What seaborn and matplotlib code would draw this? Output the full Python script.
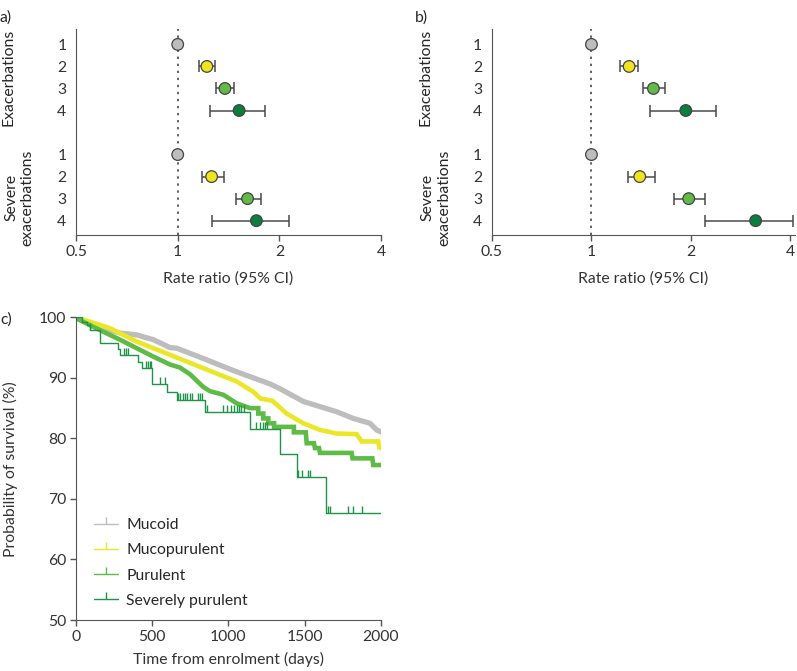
import numpy as np
import pandas as pd
import seaborn as sns
import matplotlib.pyplot as plt
from matplotlib.lines import Line2D
from matplotlib.transforms import blended_transform_factory

sns.set_style('ticks')
plt.rcParams['font.family'] = ['Lato', 'DejaVu Sans']
plt.rcParams['font.size'] = 11.3
plt.rcParams['axes.edgecolor'] = '#555555'
plt.rcParams['xtick.color'] = '#555555'
plt.rcParams['ytick.color'] = '#555555'
plt.rcParams['xtick.labelcolor'] = '#333333'
plt.rcParams['ytick.labelcolor'] = '#333333'
plt.rcParams['axes.labelcolor'] = '#333333'

grades = ['1', '2', '3', '4']
colours = ['#bdbdbd', '#f0e41f', '#62bb46', '#0b7d3e']

# rate ratios, panel a
a_exac = [1.0, 1.22, 1.38, 1.52]
a_exac_lo = [np.nan, 1.16, 1.30, 1.25]
a_exac_hi = [np.nan, 1.29, 1.47, 1.81]
a_sev = [1.0, 1.26, 1.61, 1.71]
a_sev_lo = [np.nan, 1.18, 1.49, 1.26]
a_sev_hi = [np.nan, 1.37, 1.77, 2.13]

# rate ratios, panel b
b_exac = [1.0, 1.30, 1.54, 1.93]
b_exac_lo = [np.nan, 1.22, 1.43, 1.50]
b_exac_hi = [np.nan, 1.38, 1.67, 2.39]
b_sev = [1.0, 1.40, 1.97, 3.14]
b_sev_lo = [np.nan, 1.29, 1.78, 2.20]
b_sev_hi = [np.nan, 1.56, 2.21, 4.08]

# survival curves, panel c
mucoid_t = [0, 4, 180, 289, 398, 508, 617, 661, 835, 1054, 1273, 1339, 1492, 1711, 1820, 1929, 1973, 2000]
mucoid_s = [100, 99.8, 98.2, 97.4, 97.1, 96.3, 95.0, 94.9, 93.2, 91.0, 89.0, 88.2, 86.1, 84.4, 83.3, 82.5, 81.4, 81.1]
mucopur_t = [0, 100, 223, 398, 617, 835, 1054, 1163, 1210, 1290, 1382, 1492, 1601, 1711, 1842, 1875, 1984, 1990, 2000]
mucopur_s = [100, 99.2, 98.2, 96.0, 93.8, 91.6, 89.4, 87.7, 86.6, 86.2, 84.1, 82.5, 81.4, 80.8, 80.7, 79.5, 79.5, 78.5, 78.4]
purulent_t = [0, 20, 180, 289, 398, 508, 617, 682, 748, 835, 879, 967, 1054, 1142, 1196, 1196, 1229, 1229,
              1262, 1262, 1300, 1300, 1430, 1430, 1508, 1514, 1562, 1568, 1595, 1601, 1809, 1815, 1945, 1951, 2000]
purulent_s = [100, 99.6, 97.6, 96.3, 94.9, 93.5, 92.2, 91.7, 90.6, 88.5, 87.8, 87.2, 85.8, 85.0, 85.0, 84.1, 84.1, 83.3,
              83.3, 82.5, 82.5, 81.9, 81.9, 81.0, 81.0, 79.2, 79.2, 78.4, 78.4, 77.6, 77.6, 76.7, 76.7, 75.6, 75.6]
severe_t = [0, 40, 70, 92, 158, 278, 289, 409, 431, 500, 595, 661, 846, 1142, 1339, 1448, 1641, 2000]
severe_s = [100, 99.3, 98.7, 97.9, 95.7, 94.7, 93.8, 92.7, 91.6, 89.0, 87.6, 86.4, 84.3, 81.5, 77.5, 73.7, 67.7, 67.7]
severe_censor = [92, 318, 330, 342, 460, 472, 484, 495, 551, 584, 670, 685, 700, 715, 730, 745, 760, 800, 815, 830,
                 857, 966, 990, 1020, 1040, 1055, 1070, 1085, 1100, 1180, 1205, 1225, 1240, 1255,
                 1460, 1480, 1525, 1535, 1655, 1670, 1787, 1820, 1875]
series_names = ['Mucoid', 'Mucopurulent', 'Purulent', 'Severely purulent']
line_colours = ['#bdbdbd', '#ece628', '#5dbb46', '#1d9447']
line_widths = [3.8, 3.3, 3.3]

fig = plt.figure(figsize=(7.97, 6.71), dpi=100)


def forest(ax, exac, exac_lo, exac_hi, sev, sev_lo, sev_hi, xmax):
    df = pd.DataFrame({
        'rr': exac + sev,
        'lo': exac_lo + sev_lo,
        'hi': exac_hi + sev_hi,
        'pos': [1, 2, 3, 4, 6, 7, 8, 9],
        'grade': grades * 2,
    })
    ax.axvline(1, ls=(0, (1.3, 2.6)), color='#555555', lw=1.3, zorder=1)
    ax.errorbar(df.rr, df.pos, xerr=[df.rr - df.lo, df.hi - df.rr], fmt='none',
                ecolor='#4a4a4a', elinewidth=1.1, capsize=4, capthick=1.1, zorder=2)
    sns.scatterplot(data=df, x='rr', y='pos', hue='grade', palette=colours, s=70,
                    edgecolor='#444444', linewidth=0.9, legend=False, zorder=3, ax=ax)
    ax.set_xscale('log', base=2)
    ax.set_xlim(0.5, xmax)
    ax.set_ylim(9.65, 0.3)
    ax.set_xticks([0.5, 1, 2, 4])
    ax.set_xticklabels(['0.5', '1', '2', '4'])
    ax.minorticks_off()
    ax.set_yticks(df.pos)
    ax.set_yticklabels(df.grade)
    ax.tick_params(axis='y', length=0, pad=7)
    ax.tick_params(axis='x', length=4, width=1, pad=3)
    ax.set_xlabel('Rate ratio (95% CI)', labelpad=9)
    ax.set_ylabel('')
    sns.despine(ax=ax)
    tr = blended_transform_factory(ax.transAxes, ax.transData)
    ax.text(-0.22, 2.5, 'Exacerbations', rotation=90, ha='center', va='center', transform=tr)
    ax.text(-0.185, 7.95, 'Severe\nexacerbations', rotation=90, ha='center', va='center',
            multialignment='center', linespacing=1.2, transform=tr)


ax_a = fig.add_axes([0.0954, 0.6498, 0.3827, 0.307])
forest(ax_a, a_exac, a_exac_lo, a_exac_hi, a_sev, a_sev_lo, a_sev_hi, 4)
ax_b = fig.add_axes([0.6173, 0.6498, 0.3797, 0.307])
forest(ax_b, b_exac, b_exac_lo, b_exac_hi, b_sev, b_sev_lo, b_sev_hi, 4.12)

ax_c = fig.add_axes([0.0954, 0.076, 0.3823, 0.4511])
curves = pd.concat([
    pd.DataFrame({'t': mucoid_t, 's': mucoid_s, 'group': 'Mucoid'}),
    pd.DataFrame({'t': mucopur_t, 's': mucopur_s, 'group': 'Mucopurulent'}),
    pd.DataFrame({'t': purulent_t, 's': purulent_s, 'group': 'Purulent'}),
], ignore_index=True)
for name, col, lw in zip(series_names[:3], line_colours[:3], line_widths):
    sub = curves[curves.group == name]
    sns.lineplot(x=sub.t.values, y=sub.s.values, color=col, lw=lw, sort=False,
                 estimator=None, ax=ax_c, solid_joinstyle='miter')
sns.lineplot(x=severe_t, y=severe_s, color=line_colours[3], lw=1.0, drawstyle='steps-post',
             estimator=None, ax=ax_c)
idx = np.searchsorted(severe_t, severe_censor, side='right') - 1
ax_c.plot(severe_censor, np.array(severe_s)[idx], ls='none', marker=2, ms=5, mew=1.0,
          color=line_colours[3])

ax_c.set_xlim(0, 2000)
ax_c.set_ylim(50, 100)
ax_c.set_xticks([0, 500, 1000, 1500, 2000])
ax_c.set_yticks([50, 60, 70, 80, 90, 100])
ax_c.tick_params(length=4, width=1, pad=3)
ax_c.set_xlabel('Time from enrolment (days)', labelpad=6)
ax_c.set_ylabel('Probability of survival (%)', labelpad=15)
sns.despine(ax=ax_c)
handles = [Line2D([], [], color=c, lw=1.0, marker=2, ms=5, mew=1.0) for c in line_colours]
ax_c.legend(handles, series_names, loc='upper left', bbox_to_anchor=(0.06, 0.337), frameon=False,
            borderaxespad=0, borderpad=0, handlelength=1.5, handletextpad=0.55, labelspacing=0.72,
            numpoints=1)

fig.text(0.0, 0.985, 'a)', ha='left', va='top')
fig.text(0.521, 0.985, 'b)', ha='left', va='top')
fig.text(0.0, 0.535, 'c)', ha='left', va='top')

fig.savefig('out.png', dpi=100)
